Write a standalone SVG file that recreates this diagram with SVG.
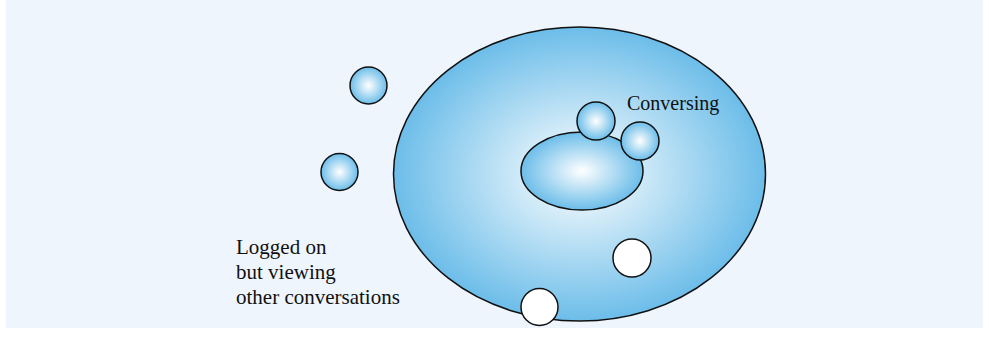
<svg xmlns="http://www.w3.org/2000/svg" width="989" height="339" viewBox="0 0 989 339">
<defs>
<radialGradient id="g" cx="50%" cy="50%" r="50%">
<stop offset="0" stop-color="#ffffff"/>
<stop offset="1" stop-color="#6cbde9"/>
</radialGradient>
<style>
.b{fill:url(#g);stroke:#111;stroke-width:1.5}
.w{fill:#fff;stroke:#111;stroke-width:1.5}
text{font-family:"Liberation Serif","Times New Roman",serif;fill:#111}
</style>
</defs>
<rect x="6" y="0" width="977" height="328" fill="#eef5fc"/>
<g id="logged-on">
<ellipse class="b" cx="579.5" cy="174" rx="186" ry="147"/>
</g>
<g id="conversing-group">
<ellipse class="b" cx="582" cy="171" rx="61" ry="39"/>
</g>
<g id="conv-user-1"><circle class="b" cx="596" cy="121" r="19"/></g>
<g id="conv-user-2"><circle class="b" cx="640" cy="141" r="19"/></g>
<g id="outside-user-1"><circle class="b" cx="368.5" cy="85.5" r="18.5"/></g>
<g id="outside-user-2"><circle class="b" cx="339.5" cy="172" r="18.5"/></g>
<g id="viewing-user-1"><circle class="w" cx="632" cy="258" r="19"/></g>
<g id="viewing-user-2"><circle class="w" cx="539.5" cy="307" r="18.5"/></g>
<g id="connectors"></g>
<g id="labels">
<text x="627" y="110" font-size="20">Conversing</text>
<text x="236" y="254" font-size="21">Logged on</text>
<text x="236" y="279" font-size="21">but viewing</text>
<text x="236" y="304" font-size="21">other conversations</text>
</g>
</svg>
